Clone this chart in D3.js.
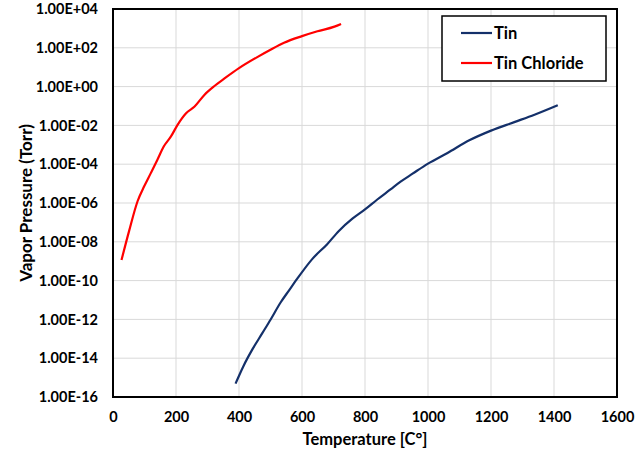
<!DOCTYPE html>
<html>
<head>
<meta charset="utf-8">
<script src="https://cdn.jsdelivr.net/npm/d3@7"></script>
<style>
  body { margin: 0; background: #fff; }
  text { font-family: Lato, "Open Sans", sans-serif; font-weight: bold; fill: #000; }
</style>
</head>
<body>
<script>
// temperatures in C, vapor pressure as log10(Torr)
const tinTemp = [389, 414, 442, 474, 501, 532, 559, 585, 633, 680, 717, 760, 800, 839, 881, 913,
  951, 1000, 1062, 1131, 1200, 1274, 1338, 1412];
const tinLogP = [-15.31, -14.41, -13.56, -12.71, -11.99, -11.13, -10.50, -9.90, -8.88, -8.12, -7.44,
  -6.81, -6.33, -5.82, -5.30, -4.90, -4.49, -3.97, -3.42, -2.77, -2.27, -1.83, -1.45, -0.96];

const chlTemp = [27, 51, 78, 99, 120, 141, 161, 184, 205, 232, 259, 290, 322, 354, 400, 458, 500,
  543, 600, 649, 703, 724];
const chlLogP = [-8.94, -7.45, -5.91, -5.14, -4.46, -3.77, -3.09, -2.57, -1.97, -1.37, -1.03, -0.43,
  0.03, 0.42, 0.95, 1.52, 1.90, 2.26, 2.60, 2.85, 3.09, 3.23];

const xTicks = [0, 200, 400, 600, 800, 1000, 1200, 1400, 1600];
const yTicks = [1e4, 1e2, 1e0, 1e-2, 1e-4, 1e-6, 1e-8, 1e-10, 1e-12, 1e-14, 1e-16];
const yTickLabels = ["1.00E+04", "1.00E+02", "1.00E+00", "1.00E-02", "1.00E-04", "1.00E-06",
  "1.00E-08", "1.00E-10", "1.00E-12", "1.00E-14", "1.00E-16"];

const seriesNames = ["Tin", "Tin Chloride"];
const seriesColors = ["#14306a", "#ff0000"];

let margin = { top: 9, right: 21, bottom: 53, left: 113 },
  width = 638 - margin.left - margin.right,
  height = 450 - margin.top - margin.bottom;

let svg = d3.select("body").append("svg")
  .attr("width", 638)
  .attr("height", 450);

let g = svg.append("g")
  .attr("transform", "translate(" + margin.left + "," + margin.top + ")");

let x = d3.scaleLinear().domain([0, 1600]).range([0, width]);
let y = d3.scaleLog().domain([1e-16, 1e4]).range([height, 0]);

// gridlines
g.append("g")
  .selectAll("line")
  .data(xTicks)
  .join("line")
  .attr("x1", d => x(d)).attr("x2", d => x(d))
  .attr("y1", 0).attr("y2", height)
  .attr("stroke", "#d9d9d9").attr("stroke-width", 1);
g.append("g")
  .selectAll("line")
  .data(yTicks)
  .join("line")
  .attr("x1", 0).attr("x2", width)
  .attr("y1", d => y(d)).attr("y2", d => y(d))
  .attr("stroke", "#d9d9d9").attr("stroke-width", 1);

// axes
let x_axis = d3.axisBottom(x).tickValues(xTicks).tickSize(0).tickPadding(15)
  .tickFormat(d3.format("d"));
let y_axis = d3.axisLeft(y).tickValues(yTicks).tickSize(0).tickPadding(15)
  .tickFormat((d, i) => yTickLabels[i]);

let x_node = g.append("g")
  .attr("transform", "translate(0," + height + ")")
  .call(x_axis);
let y_node = g.append("g").call(y_axis);
[x_node, y_node].forEach(n => {
  n.select(".domain").remove();
  n.selectAll("text").style("font-size", "14.5px");
});

// lines
let line = d3.line()
  .curve(d3.curveMonotoneX)
  .x(d => x(d[0]))
  .y(d => y(Math.pow(10, d[1])));

let series = [
  d3.zip(tinTemp, tinLogP),
  d3.zip(chlTemp, chlLogP)
];
g.selectAll("path.series")
  .data(series)
  .join("path")
  .attr("class", "series")
  .attr("d", line)
  .attr("fill", "none")
  .attr("stroke", (d, i) => seriesColors[i])
  .attr("stroke-width", 2.2)
  .attr("stroke-linejoin", "round");

// plot border
g.append("rect")
  .attr("width", width).attr("height", height)
  .attr("fill", "none").attr("stroke", "#000").attr("stroke-width", 2);

// axis titles
svg.append("text")
  .attr("x", margin.left + width / 2)
  .attr("y", 445)
  .attr("text-anchor", "middle")
  .style("font-size", "16.5px")
  .text("Temperature [C°]");
svg.append("text")
  .attr("transform", "translate(32," + (margin.top + height / 2) + ") rotate(-90)")
  .attr("text-anchor", "middle")
  .style("font-size", "17px")
  .text("Vapor Pressure (Torr)");

// legend
let lg = svg.append("g").attr("transform", "translate(442,16)");
lg.append("rect")
  .attr("width", 164).attr("height", 65)
  .attr("fill", "#fff").attr("stroke", "#000").attr("stroke-width", 1.5);
seriesNames.forEach((name, i) => {
  let yy = 17 + i * 30;
  lg.append("line")
    .attr("x1", 19).attr("x2", 50)
    .attr("y1", yy).attr("y2", yy)
    .attr("stroke", seriesColors[i]).attr("stroke-width", 2.2);
  lg.append("text")
    .attr("x", 52).attr("y", yy + 6)
    .style("font-size", "16.5px")
    .text(name);
});
</script>
</body>
</html>
